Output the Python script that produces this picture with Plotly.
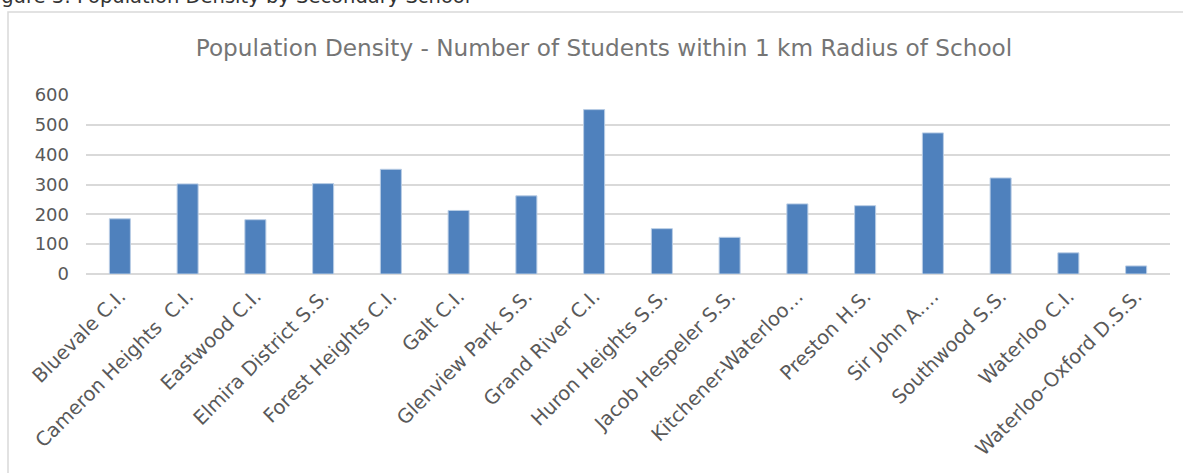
import plotly.graph_objects as go

schools = [
    "Bluevale C.I.", "Cameron Heights  C.I.", "Eastwood C.I.", "Elmira District S.S.",
    "Forest Heights C.I.", "Galt C.I.", "Glenview Park S.S.", "Grand River C.I.",
    "Huron Heights S.S.", "Jacob Hespeler S.S.", "Kitchener-Waterloo…", "Preston H.S.",
    "Sir John A.…", "Southwood S.S.", "Waterloo C.I.", "Waterloo-Oxford D.S.S.",
]
students = [185, 302, 182, 303, 351, 213, 262, 551, 152, 123, 235, 229, 473, 322, 71, 27]
y_ticks = [0, 100, 200, 300, 400, 500, 600]

FONT = "DejaVu Sans, sans-serif"
W, H = 1183, 473
L, R, T, B = 86, 13, 95, 199
pw, ph = W - L - R, H - T - B

def px_x(p):
    return (p - L) / pw

def px_y(p):
    return (H - B - p) / ph

fig = go.Figure(go.Bar(
    x=schools, y=students,
    marker=dict(color="#4f81bd", line=dict(color="#b9cde5", width=1)),
    width=0.31,
))

fig.update_layout(
    width=W, height=H,
    margin=dict(l=L, r=R, t=T, b=B, autoexpand=False),
    plot_bgcolor="white", paper_bgcolor="white",
    showlegend=False,
    font=dict(family=FONT, color="#595959"),
    title=dict(
        text="Population Density - Number of Students within 1 km Radius of School",
        x=604 / W, xanchor="center", y=1 - 48 / H, yanchor="middle",
        xref="container", yref="container",
        font=dict(family=FONT, size=23.2, color="#757575"),
    ),
    xaxis=dict(
        type="category", tickangle=-45, tickfont=dict(size=19.5, color="#595959"),
        showgrid=False, showline=False, ticks="", automargin=False,
        ticklabelstandoff=6,
    ),
    yaxis=dict(
        range=[0, 600], tickvals=y_ticks, showgrid=True, gridcolor="#d9d9d9", gridwidth=1.5,
        zeroline=True, zerolinecolor="#d9d9d9", zerolinewidth=1.5,
        tickfont=dict(size=18, color="#595959"), automargin=False,
        ticklabelstandoff=16, showline=False, ticks="",
    ),
    shapes=[dict(
        type="rect", xref="paper", yref="paper",
        x0=px_x(8), x1=px_x(1195), y0=px_y(490), y1=px_y(12),
        line=dict(color="#d9d9d9", width=1.5), fillcolor="rgba(0,0,0,0)", layer="below",
    )],
    annotations=[dict(
        text="Figure 3: Population Density by Secondary School",
        xref="paper", yref="paper", x=px_x(-16), y=px_y(-4),
        xanchor="left", yanchor="middle", showarrow=False,
        font=dict(family=FONT, size=19.5, color="#333333"),
    )],
)

fig.write_html("out.html")
